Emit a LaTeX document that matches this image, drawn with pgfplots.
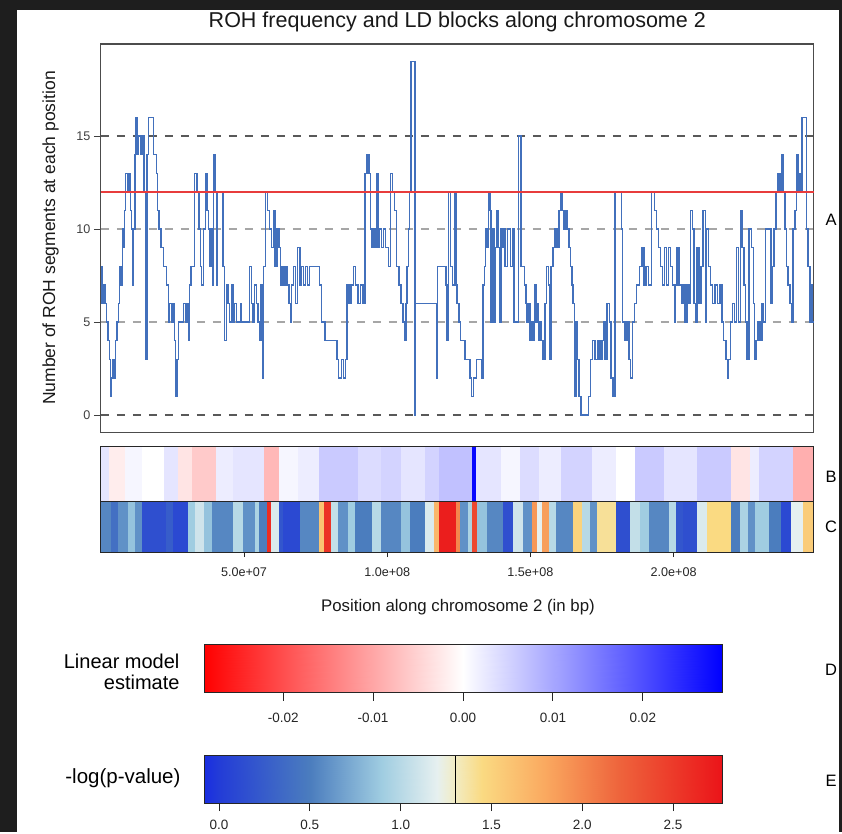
\documentclass[border=0pt]{standalone}
\usepackage{fontspec}
\setmainfont{Liberation Sans}
\usepackage{pgfplots}
\pgfplotsset{compat=1.18}
\definecolor{rohblue}{RGB}{66,112,188}
\definecolor{rohred}{RGB}{232,60,60}
\definecolor{darkbg}{RGB}{30,30,30}
\pgfplotsset{
  colormap={lmest}{rgb255(0cm)=(255,0,0); rgb255(1cm)=(255,255,255); rgb255(2cm)=(0,0,255)},
  colormap={pval}{rgb255(0cm)=(25,45,225); rgb255(0.83cm)=(35,60,215); rgb255(5.83cm)=(75,125,190); rgb255(9.83cm)=(160,205,225); rgb255(12.83cm)=(230,240,240); rgb255(13.83cm)=(242,236,195); rgb255(15.33cm)=(250,218,130); rgb255(18.83cm)=(250,168,95); rgb255(22.83cm)=(238,100,60); rgb255(28.53cm)=(235,20,25)},
}
\begin{document}
\begin{tikzpicture}[x=1pt,y=1pt]
\fill[darkbg] (0,0) rectangle (842,-832);
\fill[white] (17,-10) rectangle (839,-832);
% title and labels
\node[anchor=base, font=\fontsize{21.5}{24}\selectfont, text=black!90] at (457.3,-27) {ROH frequency and LD blocks along chromosome 2};
\node[rotate=90, anchor=base, font=\fontsize{17.5}{20}\selectfont, text=black!90] at (55,-238) {Number of ROH segments at each position};
\node[anchor=base, font=\fontsize{16.8}{20}\selectfont, text=black!90] at (458,-611) {Position along chromosome 2 (in bp)};
\node[anchor=base, font=\fontsize{16.5}{20}\selectfont] at (831,-225) {A};
\node[anchor=base, font=\fontsize{16.5}{20}\selectfont] at (831,-482) {B};
\node[anchor=base, font=\fontsize{16.5}{20}\selectfont] at (831,-532) {C};
\node[anchor=base, font=\fontsize{16.5}{20}\selectfont] at (831,-675) {D};
\node[anchor=base, font=\fontsize{16.5}{20}\selectfont] at (831,-786) {E};
\node[anchor=base east, font=\fontsize{20}{24}\selectfont] at (183,-668) {Linear model};
\node[anchor=base east, font=\fontsize{20}{24}\selectfont] at (183,-689) {estimate};
\node[anchor=base east, font=\fontsize{20.5}{24}\selectfont] at (184,-783) {-log(p-value)};

% Panel A
\begin{axis}[
  at={(100.8pt,-432.5pt)}, anchor=south west,
  scale only axis, width=713pt, height=388.5pt,
  xmin=0, xmax=248.95, ymin=-0.94, ymax=19.95,
  axis line style={black!70, line width=1.1pt},
  xtick=\empty,
  ytick={0,5,10,15}, yticklabels={0,5,10,15},
  tick align=outside, major tick length=7pt,
  ytick pos=left,
  every tick/.style={black!75, line width=1pt},
  yticklabel style={font=\fontsize{12.6}{14}\selectfont, text=black!75},
]
\addplot[black!35, line width=1.1pt, dash pattern=on 8pt off 8pt] coordinates {(0,5) (248.95,5)};
\addplot[black!35, line width=1.1pt, dash pattern=on 8pt off 8pt] coordinates {(0,10) (248.95,10)};
\addplot[black!65, line width=1.4pt, dash pattern=on 8pt off 8pt] coordinates {(0,0) (248.95,0)};
\addplot[black!65, line width=1.4pt, dash pattern=on 8pt off 8pt] coordinates {(0,15) (248.95,15)};
\addplot[const plot, rohblue, line width=1.35pt] coordinates {
(0.00,8) (0.47,6) (0.82,7) (1.51,6) (1.98,5) (2.56,4) (3.14,3) (3.38,1) (3.84,2) (4.31,3) (4.77,2) (5.24,4) (5.70,5) (6.17,6) (6.64,8) (7.10,7) (7.57,10) (8.03,9) (8.38,11) (8.73,13) (9.43,12) (9.89,13) (10.36,11) (10.83,10) (11.17,7) (11.52,10) (11.99,14) (12.34,16) (12.80,14) (13.27,15) (13.85,14) (14.43,15) (15.13,12) (15.71,3) (16.18,14) (16.64,16) (18.51,14) (19.44,13) (19.90,11) (20.37,10) (21.07,9) (22.00,8) (22.93,7) (23.63,5) (24.09,6) (24.79,5) (25.26,6) (25.72,4) (26.07,1) (26.65,3) (27.12,5) (28.86,6) (29.56,5) (30.15,6) (30.61,4) (31.08,7) (31.54,8) (32.82,13) (33.64,12) (34.34,10) (34.80,8) (35.27,7) (35.97,10) (36.66,13) (37.13,11) (37.59,10) (38.06,8) (38.53,10) (38.99,7) (39.46,14) (39.92,12) (40.39,7) (40.85,12) (42.72,8) (43.30,4) (43.88,7) (44.46,6) (45.04,5) (45.63,7) (46.21,5) (46.79,6) (47.37,5) (48.77,6) (49.12,5) (52.03,8) (52.61,6) (53.19,5) (53.77,7) (54.36,6) (54.94,5) (55.52,4) (55.98,7) (56.45,2) (56.92,8) (57.61,12) (58.31,11) (59.01,10) (59.71,9) (60.41,11) (60.87,8) (61.57,10) (62.27,9) (62.73,7) (63.20,8) (63.67,7) (64.36,8) (65.06,7) (65.76,6) (66.23,5) (66.69,7) (67.39,8) (68.09,6) (68.79,9) (69.49,7) (70.18,8) (70.88,7) (71.58,8) (72.28,7) (72.98,8) (76.47,7) (77.17,5) (78.33,4) (82.52,3) (82.99,2) (84.15,3) (84.85,2) (85.55,3) (86.01,7) (86.71,6) (87.41,7) (88.34,8) (89.04,7) (89.85,6) (90.67,7) (91.60,6) (92.30,13) (93.00,14) (93.69,13) (94.16,10) (94.63,9) (95.09,10) (95.79,9) (96.49,13) (96.95,9) (97.42,10) (98.12,9) (98.81,10) (99.51,9) (100.44,8) (101.14,13) (101.84,12) (102.54,11) (103.24,8) (104.17,7) (104.87,6) (105.57,5) (106.15,4) (106.50,6) (106.96,8) (107.43,10) (107.89,12) (108.36,19) (109.76,0) (109.99,6) (117.21,2) (117.67,8) (120.47,7) (120.93,4) (121.40,12) (122.09,8) (122.79,7) (123.49,12) (123.96,7) (124.42,6) (125.12,5) (125.59,4) (127.22,3) (128.85,2) (129.54,1) (130.24,2) (131.17,3) (133.04,2) (133.50,7) (133.97,8) (134.43,10) (134.90,9) (135.36,12) (135.83,11) (136.18,5) (136.76,10) (137.23,5) (137.92,9) (138.39,11) (138.85,9) (139.32,5) (139.79,10) (140.25,9) (140.72,10) (141.18,8) (142.11,10) (143.04,8) (143.74,10) (144.21,5) (145.84,15) (146.77,8) (147.93,7) (148.40,6) (148.86,5) (149.33,6) (149.80,4) (150.49,5) (150.96,4) (151.42,7) (151.89,5) (152.36,6) (152.82,4) (153.29,5) (153.75,4) (154.45,3) (155.15,6) (155.61,8) (156.31,7) (156.78,3) (157.24,8) (157.94,9) (158.64,10) (159.34,9) (160.04,11) (160.74,12) (161.20,11) (161.67,10) (162.37,11) (163.06,10) (163.53,9) (164.00,8) (164.46,7) (164.93,6) (165.39,1) (165.86,5) (166.32,3) (167.02,1) (167.72,0) (170.28,1) (170.98,3) (171.68,4) (172.61,3) (173.54,4) (174.24,3) (174.94,4) (175.63,5) (176.10,3) (176.80,6) (177.50,5) (178.19,2) (178.89,1) (179.59,12) (181.69,10) (182.15,5) (183.08,4) (183.78,5) (184.48,3) (184.95,2) (185.64,5) (186.34,6) (187.04,7) (188.20,8) (188.90,9) (189.60,7) (190.30,8) (191.23,7) (192.39,12) (193.32,11) (194.02,10) (194.72,9) (195.42,8) (196.12,7) (196.82,9) (197.52,7) (198.21,9) (198.91,8) (199.61,7) (200.31,5) (200.77,7) (201.24,9) (201.94,7) (202.64,6) (203.33,7) (204.03,5) (204.73,7) (205.43,6) (205.90,11) (206.59,10) (207.06,6) (207.76,5) (208.22,9) (208.92,6) (209.62,8) (210.32,11) (211.02,5) (211.48,10) (212.18,8) (212.88,7) (213.58,6) (214.51,7) (215.21,6) (216.14,7) (216.84,5) (217.53,4) (218.23,3) (218.70,2) (219.16,3) (219.86,5) (220.56,6) (221.26,5) (221.96,9) (222.66,5) (223.35,11) (223.82,9) (224.52,7) (225.21,5) (225.68,3) (226.38,10) (227.08,9) (227.78,6) (228.24,3) (228.71,4) (229.41,5) (230.10,4) (230.80,6) (231.27,5) (231.97,10) (234.06,6) (234.53,8) (235.00,10) (235.69,12) (236.39,13) (237.09,12) (237.79,14) (238.25,12) (238.95,10) (239.42,8) (239.88,7) (240.58,6) (241.05,5) (241.74,10) (242.44,11) (242.91,14) (243.37,12) (243.84,13) (244.31,12) (244.77,16) (246.40,10) (246.87,8) (247.57,5) (248.03,7) (248.50,5) (248.95,5)
};
\addplot[rohred, line width=1.8pt] coordinates {(0,12) (248.95,12)};
\end{axis}

% Panel B
\begin{axis}[
  at={(100.8pt,-501.5pt)}, anchor=south west,
  scale only axis, width=713pt, height=55pt,
  xmin=0, xmax=248.95, ymin=0, ymax=1,
  axis on top, axis line style={black!85, line width=1pt},
  xtick=\empty, ytick=\empty,
  colormap name=lmest, point meta min=-0.0288, point meta max=0.0288,
]
\addplot[surf, shader=flat corner, mesh/rows=2, point meta=explicit] table[x=x, y=y, meta=c] {
x y c
0 0 0.003
2.84 0 -0.002
8.69 0 0.001
14.54 0 0.000
22.05 0 0.003
27.07 0 -0.003
32.08 0 -0.006
40.43 0 0.002
46.28 0 0.003
57.14 0 -0.008
62.15 0 0.001
68.83 0 0.002
76.35 0 0.006
89.71 0 0.004
98.07 0 0.005
104.75 0 0.003
113.10 0 0.005
118.11 0 0.007
129.81 0 0.028
131.14 0 0.003
139.83 0 0.001
146.51 0 0.004
153.20 0 0.002
160.71 0 0.005
171.57 0 0.002
179.93 0 0.000
186.61 0 0.006
196.63 0 0.003
208.33 0 0.006
220.02 0 -0.003
226.70 0 0.002
230.04 0 0.005
241.74 0 -0.009
248.95 0 -0.009

0 1 0.003
2.84 1 -0.002
8.69 1 0.001
14.54 1 0.000
22.05 1 0.003
27.07 1 -0.003
32.08 1 -0.006
40.43 1 0.002
46.28 1 0.003
57.14 1 -0.008
62.15 1 0.001
68.83 1 0.002
76.35 1 0.006
89.71 1 0.004
98.07 1 0.005
104.75 1 0.003
113.10 1 0.005
118.11 1 0.007
129.81 1 0.028
131.14 1 0.003
139.83 1 0.001
146.51 1 0.004
153.20 1 0.002
160.71 1 0.005
171.57 1 0.002
179.93 1 0.000
186.61 1 0.006
196.63 1 0.003
208.33 1 0.006
220.02 1 -0.003
226.70 1 0.002
230.04 1 0.005
241.74 1 -0.009
248.95 1 -0.009
};
\end{axis}

% Panel C
\begin{axis}[
  at={(100.8pt,-552pt)}, anchor=south west,
  scale only axis, width=713pt, height=50.5pt,
  xmin=0, xmax=248.95, ymin=0, ymax=1,
  axis on top, axis line style={black!85, line width=1pt},
  xtick={50,100,150,200}, xticklabels={5.0e+07,1.0e+08,1.5e+08,2.0e+08},
  xtick pos=lower, tick align=outside, major tick length=5pt,
  every tick/.style={black!85, line width=0.9pt},
  xticklabel style={font=\fontsize{12.6}{14}\selectfont, text=black!85, yshift=-7pt},
  ytick=\empty,
  colormap name=pval, point meta min=-0.083, point meta max=2.77,
]
\addplot[surf, shader=flat corner, mesh/rows=2, point meta=explicit] table[x=x, y=y, meta=c] {
x y c
0 0 0.55
3.68 0 0.4
6.18 0 0.6
9.52 0 0.85
12.03 0 0.6
14.54 0 0.15
22.89 0 0.25
25.40 0 0.1
30.41 0 0.9
32.91 0 1.1
36.25 0 0.85
38.76 0 0.55
46.28 0 1.0
49.62 0 0.6
53.80 0 0.95
55.47 0 0.5
57.97 0 2.6
59.64 0 1.15
62.15 0 0.2
63.82 0 0.1
69.67 0 0.55
76.35 0 1.6
78.02 0 2.55
80.53 0 1.05
83.03 0 0.6
86.37 0 0.9
88.88 0 0.5
94.73 0 1.0
98.07 0 0.55
104.75 0 0.85
108.09 0 0.5
113.10 0 1.15
116.44 0 1.7
118.11 0 2.7
123.96 0 2.0
125.63 0 0.6
128.14 0 0.95
129.81 0 2.4
131.48 0 0.85
134.82 0 0.55
140.67 0 0.15
144.01 0 1.1
147.35 0 0.6
150.69 0 1.9
152.36 0 1.2
154.03 0 1.85
156.54 0 1.0
159.04 0 0.55
164.89 0 1.5
168.23 0 1.0
170.74 0 0.6
173.24 0 1.4
179.93 0 0.15
184.94 0 1.05
188.28 0 0.9
191.62 0 0.55
198.30 0 1.0
200.81 0 0.2
203.31 0 0.15
208.33 0 1.15
211.67 0 1.45
220.02 0 0.5
223.36 0 0.95
225.87 0 0.6
228.37 0 0.9
233.39 0 0.5
237.56 0 0.1
240.90 0 1.2
245.08 0 1.55
248.95 0 1.55

0 1 0.55
3.68 1 0.4
6.18 1 0.6
9.52 1 0.85
12.03 1 0.6
14.54 1 0.15
22.89 1 0.25
25.40 1 0.1
30.41 1 0.9
32.91 1 1.1
36.25 1 0.85
38.76 1 0.55
46.28 1 1.0
49.62 1 0.6
53.80 1 0.95
55.47 1 0.5
57.97 1 2.6
59.64 1 1.15
62.15 1 0.2
63.82 1 0.1
69.67 1 0.55
76.35 1 1.6
78.02 1 2.55
80.53 1 1.05
83.03 1 0.6
86.37 1 0.9
88.88 1 0.5
94.73 1 1.0
98.07 1 0.55
104.75 1 0.85
108.09 1 0.5
113.10 1 1.15
116.44 1 1.7
118.11 1 2.7
123.96 1 2.0
125.63 1 0.6
128.14 1 0.95
129.81 1 2.4
131.48 1 0.85
134.82 1 0.55
140.67 1 0.15
144.01 1 1.1
147.35 1 0.6
150.69 1 1.9
152.36 1 1.2
154.03 1 1.85
156.54 1 1.0
159.04 1 0.55
164.89 1 1.5
168.23 1 1.0
170.74 1 0.6
173.24 1 1.4
179.93 1 0.15
184.94 1 1.05
188.28 1 0.9
191.62 1 0.55
198.30 1 1.0
200.81 1 0.2
203.31 1 0.15
208.33 1 1.15
211.67 1 1.45
220.02 1 0.5
223.36 1 0.95
225.87 1 0.6
228.37 1 0.9
233.39 1 0.5
237.56 1 0.1
240.90 1 1.2
245.08 1 1.55
248.95 1 1.55
};
\end{axis}

% Colour key D
\begin{axis}[
  at={(204pt,-692.5pt)}, anchor=south west,
  scale only axis, width=518pt, height=48.5pt,
  xmin=-0.0288, xmax=0.0288, ymin=0, ymax=1,
  axis on top, axis line style={black!85, line width=1pt},
  scaled x ticks=false,
  xtick={-0.02,-0.01,0,0.01,0.02}, xticklabels={-0.02,-0.01,0.00,0.01,0.02},
  xtick pos=lower, tick align=outside, major tick length=8pt,
  every tick/.style={black!85, line width=0.9pt},
  xticklabel style={font=\fontsize{13.5}{15}\selectfont, text=black!85, yshift=-9pt},
  ytick=\empty,
  colormap name=lmest, point meta min=-0.0288, point meta max=0.0288,
]
\addplot[surf, shader=interp, mesh/rows=2, point meta=explicit] table[x=x, y=y, meta=c] {
x y c
-0.0288 0 -0.0288
-0.02 0 -0.02
-0.01 0 -0.01
0 0 0
0.01 0 0.01
0.02 0 0.02
0.0288 0 0.0288

-0.0288 1 -0.0288
-0.02 1 -0.02
-0.01 1 -0.01
0 1 0
0.01 1 0.01
0.02 1 0.02
0.0288 1 0.0288
};
\end{axis}

% Colour key E
\begin{axis}[
  at={(204pt,-803pt)}, anchor=south west,
  scale only axis, width=518pt, height=48pt,
  xmin=-0.083, xmax=2.77, ymin=0, ymax=1,
  axis on top, axis line style={black!85, line width=1pt},
  xtick={0,0.5,1,1.5,2,2.5}, xticklabels={0.0,0.5,1.0,1.5,2.0,2.5},
  xtick pos=lower, tick align=outside, major tick length=8pt,
  every tick/.style={black!85, line width=0.9pt},
  xticklabel style={font=\fontsize{13.5}{15}\selectfont, text=black!85, yshift=-6pt},
  ytick=\empty,
  colormap name=pval, point meta min=-0.083, point meta max=2.77,
]
\addplot[surf, shader=interp, mesh/rows=2, point meta=explicit] table[x=x, y=y, meta=c] {
x y c
-0.083 0 -0.083
0 0 0
0.5 0 0.5
0.9 0 0.9
1.2 0 1.2
1.3 0 1.3
1.45 0 1.45
1.8 0 1.8
2.2 0 2.2
2.77 0 2.77

-0.083 1 -0.083
0 1 0
0.5 1 0.5
0.9 1 0.9
1.2 1 1.2
1.3 1 1.3
1.45 1 1.45
1.8 1 1.8
2.2 1 2.2
2.77 1 2.77
};
\addplot[black, line width=1.3pt] coordinates {(1.301,0) (1.301,1)};
\end{axis}
\end{tikzpicture}
\end{document}
